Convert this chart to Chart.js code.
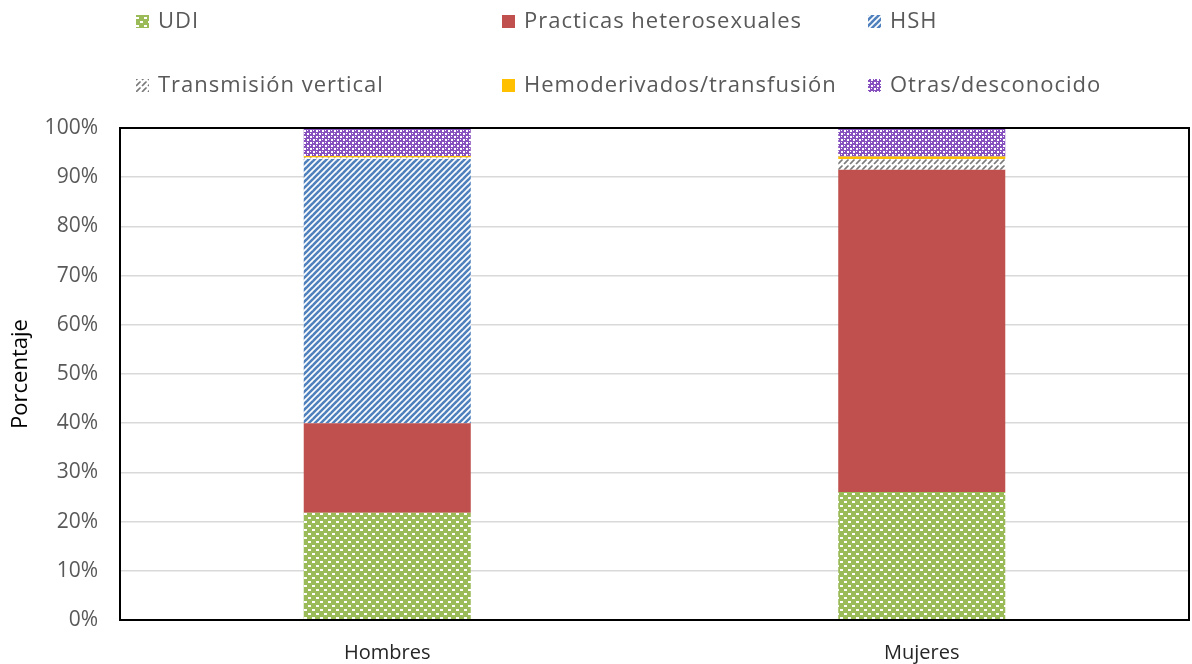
<!DOCTYPE html>
<html>
<head>
<meta charset="utf-8">
<script src="https://cdn.jsdelivr.net/npm/chart.js@4"></script>
<style>
html,body{margin:0;padding:0;background:#fff;}
#wrap{width:1192px;height:664px;position:relative;}
</style>
</head>
<body>
<div id="wrap"><canvas id="c" width="1192" height="664"></canvas></div>
<script>
// ---- data ----
const categories = ['Hombres', 'Mujeres'];
const seriesLabels = ['UDI', 'Practicas heterosexuales', 'HSH', 'Transmisión vertical', 'Hemoderivados/transfusión', 'Otras/desconocido'];
const udi = [21.8, 26.0];
const hetero = [18.2, 65.5];
const hsh = [53.7, 0];
const vertical = [0.3, 2.2];
const hemo = [0.3, 0.5];
const otras = [5.7, 5.8];
const yTickLabels = ['0%', '10%', '20%', '30%', '40%', '50%', '60%', '70%', '80%', '90%', '100%'];
const yTitle = 'Porcentaje';

// ---- patterns ----
function tile(w, h, draw) {
  const c = document.createElement('canvas');
  c.width = w; c.height = h;
  const x = c.getContext('2d');
  draw(x, w, h);
  return document.createElement('canvas').getContext('2d').createPattern(c, 'repeat');
}
const pUDI = tile(8, 8, (x) => {
  x.fillStyle = '#9BBB59'; x.fillRect(0, 0, 8, 8);
  x.fillStyle = '#ffffff';
  x.fillRect(0, 1, 3, 2);
  x.fillRect(4, 5, 3, 2);
});
function diag(color, lw, dash, size) {
  return tile(size, size, (x, w, h) => {
    x.fillStyle = '#ffffff'; x.fillRect(0, 0, w, h);
    x.strokeStyle = color; x.lineWidth = lw;
    if (dash) x.setLineDash(dash);
    for (let k = -w; k <= w; k += w) {
      x.beginPath(); x.moveTo(k - 1, h + 1); x.lineTo(k + w + 1, -1); x.stroke();
    }
  });
}
const pHSH = diag('#4F81BD', 2.6, null, 6);
const pVert = diag('#7a7a7a', 1.6, [5, 2.07], 6);
const pOtras = tile(6, 6, (x) => {
  x.fillStyle = '#8650BE'; x.fillRect(0, 0, 6, 6);
  x.fillStyle = '#ffffff';
  x.fillRect(1, 1, 2, 2);
  x.fillRect(4, 4, 2, 2);
  x.fillRect(4, 1, 1, 1);
  x.fillRect(1, 4, 1, 1);
});
const fills = [pUDI, '#C0504D', pHSH, pVert, '#FFC000', pOtras];
const values = [udi, hetero, hsh, vertical, hemo, otras];

const datasets = seriesLabels.map((l, i) => ({
  label: l,
  data: values[i],
  backgroundColor: fills[i],
  borderWidth: 0,
  barPercentage: 0.3125,
  categoryPercentage: 1
}));

const FONT = "'Open Sans', 'Noto Sans', sans-serif";

const legendPlugin = {
  id: 'customLegend',
  afterDraw(chart) {
    const ctx = chart.ctx;
    const cols = [136, 502, 868];
    const rows = [21, 85];
    ctx.save();
    ctx.font = '22px ' + FONT;
    ctx.letterSpacing = '1px';
    ctx.textBaseline = 'middle';
    ctx.textAlign = 'left';
    chart.data.datasets.forEach((ds, i) => {
      const cx = cols[i % 3], cy = rows[Math.floor(i / 3)];
      ctx.fillStyle = ds.backgroundColor;
      ctx.fillRect(cx, cy - 6, 13, 13);
      ctx.fillStyle = '#595959';
      ctx.fillText(ds.label, cx + 22, cy + 1);
    });
    ctx.restore();
  }
};
const framePlugin = {
  id: 'frame',
  afterDatasetsDraw(chart) {
    const a = chart.chartArea, ctx = chart.ctx;
    ctx.save();
    ctx.strokeStyle = '#000';
    ctx.lineWidth = 2;
    ctx.strokeRect(a.left, a.top, a.right - a.left, a.bottom - a.top);
    ctx.restore();
  }
};

new Chart(document.getElementById('c'), {
  type: 'bar',
  data: { labels: categories, datasets },
  plugins: [legendPlugin, framePlugin],
  options: {
    responsive: false,
    animation: false,
    layout: { padding: { top: 128, right: 3, left: 0, bottom: 0 } },
    plugins: { legend: { display: false }, tooltip: { enabled: false } },
    scales: {
      x: {
        stacked: true,
        grid: { display: false },
        border: { display: false },
        ticks: { color: '#262626', font: { family: FONT, size: 20 }, padding: 13 },
        afterFit(s) { s.height = 44; }
      },
      y: {
        stacked: true,
        min: 0, max: 100,
        ticks: {
          stepSize: 10,
          color: '#595959',
          font: { family: FONT, size: 21 },
          padding: 22,
          callback: (v) => yTickLabels[Math.round(v / 10)]
        },
        grid: { color: '#D9D9D9', lineWidth: 1.5, drawTicks: false },
        border: { display: false },
        title: { display: true, text: yTitle, color: '#000', font: { family: FONT, size: 22 }, padding: { top: 8, bottom: 0 } },
        afterFit(s) { s.width = 120; }
      }
    }
  }
});
</script>
</body>
</html>
